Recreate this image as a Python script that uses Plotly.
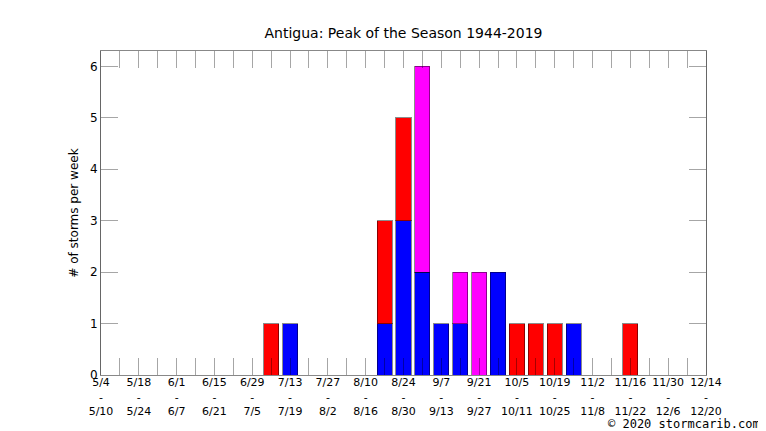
import plotly.graph_objects as go

week_start = ["5/4", "5/11", "5/18", "5/25", "6/1", "6/8", "6/15", "6/22", "6/29", "7/6",
              "7/13", "7/20", "7/27", "8/3", "8/10", "8/17", "8/24", "8/31", "9/7", "9/14",
              "9/21", "9/28", "10/5", "10/12", "10/19", "10/26", "11/2", "11/9", "11/16",
              "11/23", "11/30", "12/7", "12/14"]
week_end = ["5/10", "5/17", "5/24", "5/31", "6/7", "6/14", "6/21", "6/28", "7/5", "7/12",
            "7/19", "7/26", "8/2", "8/9", "8/16", "8/23", "8/30", "9/6", "9/13", "9/20",
            "9/27", "10/4", "10/11", "10/18", "10/25", "11/1", "11/8", "11/15", "11/22",
            "11/29", "12/6", "12/13", "12/20"]

blue_counts = [0, 0, 0, 0, 0, 0, 0, 0, 0, 0, 1, 0, 0, 0, 0, 1, 3, 2, 1, 1, 0, 2, 0, 0, 0, 1,
               0, 0, 0, 0, 0, 0, 0]
red_counts = [0, 0, 0, 0, 0, 0, 0, 0, 0, 1, 0, 0, 0, 0, 0, 2, 2, 0, 0, 0, 0, 0, 1, 1, 1, 0,
              0, 0, 1, 0, 0, 0, 0]
magenta_counts = [0, 0, 0, 0, 0, 0, 0, 0, 0, 0, 0, 0, 0, 0, 0, 0, 0, 4, 0, 1, 2, 0, 0, 0, 0, 0,
                  0, 0, 0, 0, 0, 0, 0]

x_idx = list(range(len(week_start)))


def nz(v):
    return [c if c else None for c in v]


fig = go.Figure()
for name, vals, col in [("blue", blue_counts, "#0000ff"),
                        ("red", red_counts, "#ff0000"),
                        ("magenta", magenta_counts, "#ff00ff")]:
    fig.add_trace(go.Bar(x=x_idx, y=nz(vals), name=name, width=0.8,
                         marker=dict(color=col, line=dict(color="rgba(0,0,0,0.45)", width=1)),
                         showlegend=False))

tick_text = [f"{s}<br>-<br>{e}" if i % 2 == 0 else ""
             for i, (s, e) in enumerate(zip(week_start, week_end))]

# page body has an 8px margin: shrink the figure so the plot box lands where the reference has it
OFF = 8
fig.update_layout(
    width=766 - OFF, height=431 - OFF,
    margin=dict(l=101 - OFF, r=60, t=51 - OFF, b=56),
    paper_bgcolor="white", plot_bgcolor="white",
    font=dict(family="DejaVu Sans", size=12, color="black"),
    barmode="stack", bargap=0.2,
    title=dict(text="Antigua: Peak of the Season 1944-2019", x=0.5, xref="paper",
               xanchor="center", y=1 - (33 - OFF) / (431 - OFF), yanchor="middle",
               yref="container", font=dict(size=14, color="black")),
    annotations=[dict(x=1, y=0, xref="paper", yref="paper", xanchor="right", yanchor="middle",
                      xshift=56, yshift=-49, text="© 2020 stormcarib.com", showarrow=False,
                      font=dict(family="DejaVu Sans Mono", size=12, color="black"))],
)
fig.update_xaxes(range=[0, 32], tickmode="array", tickvals=x_idx, ticktext=tick_text,
                 ticks="inside", ticklen=17, tickcolor="rgba(0,0,0,0.35)", tickwidth=1,
                 showline=True, linecolor="#888", linewidth=1, mirror="ticks",
                 showgrid=False, zeroline=False, tickfont=dict(size=11),
                 ticklabelstandoff=-3, automargin=False)
fig.update_yaxes(range=[0, 6.3], tickmode="array", tickvals=[0, 1, 2, 3, 4, 5, 6],
                 ticks="inside", ticklen=17, tickcolor="rgba(0,0,0,0.35)", tickwidth=1,
                 showline=True, linecolor="#666", linewidth=1, mirror="ticks",
                 showgrid=False, zeroline=False, tickfont=dict(size=12), automargin=False,
                 title=dict(text="# of storms per week", font=dict(size=12), standoff=8))

fig.write_html("out.html")
